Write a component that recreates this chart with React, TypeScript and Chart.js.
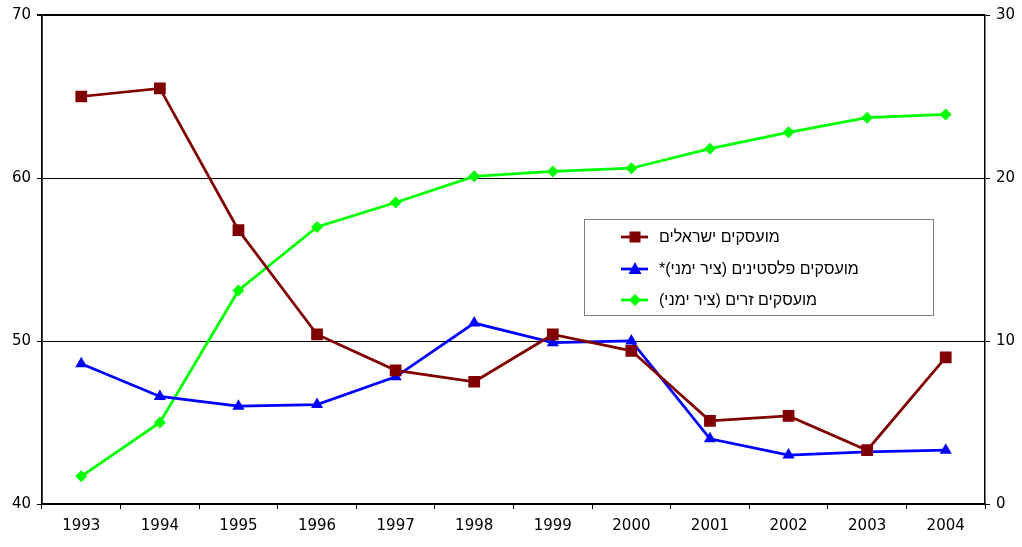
import React, { useEffect, useRef } from "react";
import { Chart, registerables } from "chart.js";

Chart.register(...registerables);

const years = ["1993", "1994", "1995", "1996", "1997", "1998", "1999", "2000", "2001", "2002", "2003", "2004"];
const israeli = [65.0, 65.5, 56.8, 50.4, 48.2, 47.5, 50.4, 49.4, 45.1, 45.4, 43.3, 49.0];
const palestinians = [8.6, 6.6, 6.0, 6.1, 7.8, 11.1, 9.9, 10.0, 4.0, 3.0, 3.2, 3.3];
const foreign = [1.7, 5.0, 13.1, 17.0, 18.5, 20.1, 20.4, 20.6, 21.8, 22.8, 23.7, 23.9];

const labelIsraeli = "מועסקים ישראלים";
const labelPalestinians = "מועסקים פלסטינים (ציר ימני)*";
const labelForeign = "מועסקים זרים (ציר ימני)";

const RED = "#800000";
const BLUE = "#0000FF";
const GREEN = "#00FF00";

const LEGEND_ROWS = [237, 269, 300];

const legendPlugin = {
  id: "customLegend",
  afterDraw(chart: any) {
    const ctx = chart.ctx;
    ctx.save();
    const bx = 584.5, by = 219.5, bw = 349, bh = 96;
    ctx.fillStyle = "#ffffff";
    ctx.fillRect(bx, by, bw, bh);
    ctx.strokeStyle = "#808080";
    ctx.lineWidth = 1;
    ctx.strokeRect(bx, by, bw, bh);
    chart.data.datasets.forEach((ds: any, i: number) => {
      const y = LEGEND_ROWS[i];
      ctx.strokeStyle = ds.borderColor;
      ctx.lineWidth = 2.75;
      ctx.beginPath();
      ctx.moveTo(621, y);
      ctx.lineTo(648, y);
      ctx.stroke();
      ctx.fillStyle = ds.borderColor;
      ctx.beginPath();
      const cx = 635;
      if (ds.pointStyle === "rect") {
        ctx.rect(cx - 5.5, y - 5.5, 11, 11);
      } else if (ds.pointStyle === "triangle") {
        ctx.moveTo(cx, y - 7);
        ctx.lineTo(cx + 6.5, y + 5);
        ctx.lineTo(cx - 6.5, y + 5);
        ctx.closePath();
      } else {
        ctx.moveTo(cx, y - 6);
        ctx.lineTo(cx + 6, y);
        ctx.lineTo(cx, y + 6);
        ctx.lineTo(cx - 6, y);
        ctx.closePath();
      }
      ctx.fill();
    });
    ctx.restore();
  },
};

const legendLabels = [labelIsraeli, labelPalestinians, labelForeign];

export default function App() {
  const ref = useRef<HTMLCanvasElement | null>(null);
  useEffect(() => {
    document.body.style.margin = "0";
    if (!ref.current) return;
    const font = { family: "'DejaVu Sans', sans-serif", size: 15 };
    const chart = new Chart(ref.current, {
      type: "line",
      data: {
        labels: years,
        datasets: [
          {
            label: labelIsraeli,
            data: israeli,
            yAxisID: "y",
            borderColor: RED,
            backgroundColor: RED,
            borderWidth: 2.75,
            pointStyle: "rect",
            pointRadius: 8.3,
            pointBorderWidth: 0,
            tension: 0,
          },
          {
            label: labelPalestinians,
            data: palestinians,
            yAxisID: "y1",
            borderColor: BLUE,
            backgroundColor: BLUE,
            borderWidth: 2.75,
            pointStyle: "triangle",
            pointRadius: 7,
            pointBorderWidth: 0,
            tension: 0,
          },
          {
            label: labelForeign,
            data: foreign,
            yAxisID: "y1",
            borderColor: GREEN,
            backgroundColor: GREEN,
            borderWidth: 2.75,
            pointStyle: "rectRot",
            pointRadius: 6,
            pointBorderWidth: 0,
            tension: 0,
          },
        ],
      },
      options: {
        animation: false,
        responsive: true,
        maintainAspectRatio: false,
        layout: { padding: { top: 15, left: 0, right: 0, bottom: 0 } },
        plugins: {
          legend: { display: false },
          tooltip: { enabled: false },
        },
        scales: {
          x: {
            offset: true,
            grid: { offset: true, drawOnChartArea: false, drawTicks: true, tickLength: 5, color: "#000000", lineWidth: 1 },
            border: { color: "#000000", width: 1.5 },
            ticks: { color: "#000000", font, padding: 8, maxRotation: 0 },
            afterFit: (s: any) => { s.height = 43; },
          },
          y: {
            position: "left",
            min: 40,
            max: 70,
            ticks: { stepSize: 10, color: "#000000", font, padding: 6 },
            grid: {
              color: "#000000",
              lineWidth: (c: any) => (c.tick && c.tick.value === 70 ? 2 : 1),
              tickLength: 5,
            },
            border: { color: "#000000", width: 1.75 },
            afterFit: (s: any) => { s.width = 42; },
          },
          y1: {
            position: "right",
            min: 0,
            max: 30,
            ticks: { stepSize: 10, color: "#000000", font, padding: 6 },
            grid: { drawOnChartArea: false, color: "#000000", lineWidth: 1, tickLength: 5 },
            border: { color: "#000000", width: 1.5 },
            afterFit: (s: any) => { s.width = 37; },
          },
        },
      },
      plugins: [legendPlugin],
    });
    return () => chart.destroy();
  }, []);
  return (
    <div style={{ width: 1022, height: 547, position: "relative", background: "#fff" }}>
      <canvas ref={ref} />
      {legendLabels.map((t, i) => (
        <span
          key={i}
          dir="rtl"
          style={{
            position: "absolute",
            left: 659,
            top: LEGEND_ROWS[i] - 10,
            lineHeight: "20px",
            fontSize: 16,
            fontFamily: "'Liberation Sans', Arial, sans-serif",
            color: "#000",
            whiteSpace: "nowrap",
            display: "inline-block",
          }}
        >
          {t}
        </span>
      ))}
    </div>
  );
}
